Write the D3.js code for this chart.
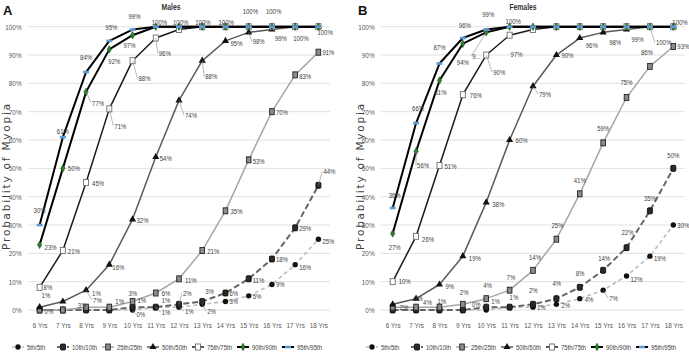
<!DOCTYPE html>
<html><head><meta charset="utf-8">
<script src="https://cdn.jsdelivr.net/npm/d3@7"></script>
<style>body{margin:0;background:#fff}svg{display:block}</style>
</head><body><svg id="c" width="689" height="352"></svg>
<script>
// ---------- DATA ----------
const years = ["6 Yrs","7 Yrs","8 Yrs","9 Yrs","10 Yrs","11 Yrs","12 Yrs","13 Yrs","14 Yrs","15 Yrs","16 Yrs","17 Yrs","18 Yrs"];
const seriesNames = ["5th/5th","10th/10th","25th/25th","50th/50th","75th/75th","90th/90th","95th/95th"];
const yTicks = [0,10,20,30,40,50,60,70,80,90,100];

// Males
const males5  = [0,0,0,0,0,1,1,2,3,5,9,16,25];
const males10 = [0,0,0,0,1,1,2,3,6,11,18,29,44];
const males25 = [0,0,1,1,3,6,11,21,35,53,70,83,91];
const males50 = [1,3,7,16,32,54,74,88,95,98,99,100,100];
const males75 = [8,21,45,71,88,96,99,100,100,100,100,100,100];
const males90 = [23,50,77,92,97,100,100,100,100,100,100,100,100];
const males95 = [30,61,84,95,99,100,100,100,100,100,100,100,100];

// Females
const females5  = [0,0,0,0,0,1,1,2,4,7,12,19,30];
const females10 = [0,0,0,0,1,1,2,4,8,14,22,35,50];
const females25 = [1,1,1,2,4,7,14,25,41,59,75,86,93];
const females50 = [2,4,9,19,38,60,79,90,96,98,99,100,100];
const females75 = [10,26,51,76,90,97,99,100,100,100,100,100,100];
const females90 = [27,56,81,94,98,100,100,100,100,100,100,100,100];
const females95 = [36,66,87,96,99,100,100,100,100,100,100,100,100];

// ---------- LABEL PLACEMENT (series, year index, dx, dy, leader, text override) ----------
const malesLabels = [
 [6,0,-6,-15],[6,1,-6,-6],[6,2,-6,-15],[6,3,-4,-14],[6,4,-4,-13],[6,5,-4,-4],[6,6,-6,-4],[6,7,-7,-4],[6,8,-7,-4],[6,9,-6,-15],[6,10,-6,-15],
 [5,0,5,2],[5,1,5,0],[5,2,6,11,1],[5,3,-1,12],[5,4,-9,10],
 [4,0,4,0],[4,1,5,1],[4,2,6,1],[4,3,5,17,1],[4,4,6,18,1],[4,5,3,15,1],
 [3,0,2,-12],[3,1,15,4],[3,2,7,10,1],[3,3,3,3],[3,4,4,1],[3,5,4,1],[3,6,6,15,1],[3,7,3,16,1],[3,8,5,2],[3,9,4,9,1],[3,10,3,9],[3,11,-2,12],[3,12,-1,6],
 [2,2,6,-14],[2,3,6,-6],[2,4,-4,-8],[2,5,6,0],[2,6,6,1],[2,7,5,1],[2,8,5,0],[2,9,4,1],[2,10,4,1],[2,11,4,1],[2,12,4,0],
 [1,4,5,-7],[1,5,6,-7],[1,6,4,-11,1],[1,7,3,-10],[1,8,4,0],[1,9,4,1],[1,10,4,0],[1,11,4,0],[1,12,5,-14,1],
 [0,0,5,1],[0,4,4,4,1],[0,5,6,5,1],[0,6,6,4,1],[0,7,5,7,1],[0,8,4,0],[0,9,4,0],[0,10,4,0],[0,11,4,3],[0,12,4,2]
];
const femalesLabels = [
 [6,0,-4,-13],[6,1,-4,-15],[6,2,-6,-16],[6,3,-4,-13],[6,4,-4,-15],[6,5,-4,-5],[6,12,-1,-4],
 [5,0,-4,14],[5,1,1,14,1],[5,2,-5,12],[5,3,-6,19],[5,4,-14,24,1,"9..."],
 [4,0,6,0],[4,1,6,3],[4,2,5,1],[4,3,7,1],[4,4,7,17,1],[4,5,1,19],
 [3,0,7,3],[3,1,7,4],[3,2,6,2],[3,3,6,2],[3,4,6,2],[3,5,6,0],[3,6,6,8,1],[3,7,5,0],[3,8,6,7],[3,9,6,10],[3,10,5,10],[3,11,6,16,1],
 [2,2,-2,-6],[2,3,-3,-12],[2,4,-3,-13],[2,5,-3,-13],[2,6,-4,-13],[2,7,-5,-14],[2,8,-6,-14],[2,9,-6,-15],[2,10,-6,-15],[2,11,-9,-14],[2,12,4,0],
 [1,1,-2,-12],[1,3,9,-6],[1,4,5,-6],[1,5,0,-10],[1,6,-4,-14],[1,7,-4,-15],[1,8,-4,-14],[1,9,-5,-12],[1,10,-5,-15],[1,11,-6,-13],[1,12,-6,-13],
 [0,6,4,0],[0,7,5,1],[0,8,5,1],[0,9,6,8,1],[0,10,4,3],[0,11,4,2],[0,12,4,0]
];

// ---------- STYLES ----------
const narrow = "'Liberation Sans Narrow','Liberation Sans',Arial,sans-serif";
const squeeze = 0.8;
const lineStyles = [
 {stroke:"#bdbdbd", w:1.6, dash:"4,3"},
 {stroke:"#666666", w:2,   dash:"6,3"},
 {stroke:"#a6a6a6", w:1.5, dash:null},
 {stroke:"#5a5a5a", w:1.5, dash:null},
 {stroke:"#1a1a1a", w:1.5, dash:null},
 {stroke:"#000000", w:2,   dash:null},
 {stroke:"#000000", w:2,   dash:null}
];

const svg = d3.select("#c");

function drawMarker(g, s, x, y) {
  if (s === 0) {
    g.append("circle").attr("cx", x).attr("cy", y).attr("r", 2.7).attr("fill", "#111");
  } else if (s === 1) {
    g.append("rect").attr("x", x-2.5).attr("y", y-3).attr("width", 5).attr("height", 6).attr("rx", 1)
      .attr("fill", "#2b2b2b").attr("stroke", "#000").attr("stroke-width", 0.8);
  } else if (s === 2) {
    g.append("rect").attr("x", x-2.3).attr("y", y-3).attr("width", 4.6).attr("height", 6)
      .attr("fill", "#8c8c8c").attr("stroke", "#222").attr("stroke-width", 0.9);
  } else if (s === 3) {
    g.append("path").attr("d", d3.symbol(d3.symbolTriangle, 22)()).attr("transform", `translate(${x},${y})`).attr("fill", "#111");
  } else if (s === 4) {
    g.append("rect").attr("x", x-2.5).attr("y", y-3).attr("width", 5).attr("height", 6)
      .attr("fill", "#fff").attr("stroke", "#6e6e6e").attr("stroke-width", 0.9);
  } else if (s === 5) {
    g.append("path").attr("d", d3.symbol(d3.symbolDiamond, 16)()).attr("transform", `translate(${x},${y})`)
      .attr("fill", "#2e7d2e").attr("stroke", "#0d3d0d").attr("stroke-width", 0.5);
  } else {
    g.append("rect").attr("x", x-3).attr("y", y-1.3).attr("width", 6).attr("height", 2.6).attr("fill", "#5b9bd5");
  }
}

function narrowText(g, x, y, txt, size, fill, weight) {
  return g.append("text").attr("transform", `translate(${x},${y}) scale(${squeeze},1)`)
    .attr("dominant-baseline", "central").attr("font-family", narrow)
    .attr("font-size", size).attr("font-weight", weight || "normal").attr("fill", fill).text(txt);
}

function panel(cfg) {
  const g = svg.append("g");
  const x = d3.scalePoint().domain(years).range([cfg.x0, cfg.x1]).padding(0.5);
  const y = d3.scaleLinear().domain([0, 100]).range([310, 26.7]);

  // gridlines
  g.append("g").selectAll("line").data(yTicks).join("line")
    .attr("x1", cfg.x0).attr("x2", cfg.x1)
    .attr("y1", d => y(d)).attr("y2", d => y(d))
    .attr("stroke", "#d9d9d9").attr("stroke-width", 0.8);

  // y axis labels
  const ya = g.append("g").attr("transform", `translate(${cfg.x0 - 4},0)`)
    .call(d3.axisLeft(y).tickValues(yTicks).tickFormat(d => d + "%").tickSize(0));
  ya.select(".domain").remove();
  ya.selectAll("text").attr("font-family", narrow).attr("font-size", 8).attr("fill", "#595959")
    .attr("transform", `scale(${squeeze},1)`);

  // x axis labels
  const xa = g.append("g").attr("transform", `translate(0,319)`)
    .call(d3.axisBottom(x).tickSize(0));
  xa.select(".domain").remove();
  xa.selectAll("text").attr("font-family", narrow).attr("font-size", 8).attr("fill", "#595959")
    .attr("transform", `scale(${squeeze},1)`);

  // y title
  g.append("text").attr("transform", `translate(${cfg.ytitleX},176) rotate(-90)`)
    .attr("text-anchor", "middle").attr("dominant-baseline", "central")
    .attr("font-family", "'DejaVu Sans',sans-serif").attr("font-size", 10.5).attr("letter-spacing", 1.8)
    .attr("fill", "#404040").text("Probability of Myopia");

  // panel letter and title
  g.append("text").attr("x", cfg.letterX).attr("y", 15).attr("font-family", "'Liberation Sans',Arial,sans-serif")
    .attr("font-weight", "bold").attr("font-size", 13).attr("fill", "#111").text(cfg.letter);
  narrowText(g, cfg.titleX, 7, cfg.title, 8.5, "#333", "bold").attr("text-anchor", "middle");

  // lines
  const line = d3.line().x((d, i) => x(years[i])).y(d => y(d));
  cfg.series.forEach((vals, s) => {
    const st = lineStyles[s];
    g.append("path").attr("d", line(vals)).attr("fill", "none")
      .attr("stroke", st.stroke).attr("stroke-width", st.w)
      .attr("stroke-dasharray", st.dash).attr("stroke-linejoin", "round");
  });
  // markers
  cfg.series.forEach((vals, s) => {
    const mg = g.append("g");
    vals.forEach((v, i) => drawMarker(mg, s, x(years[i]), y(v)));
  });

  // data labels
  const lg = g.append("g");
  cfg.labels.forEach(([s, i, dx, dy, leader, txt]) => {
    const v = cfg.series[s][i];
    const px = x(years[i]), py = y(v);
    if (leader) {
      lg.append("line").attr("x1", px).attr("y1", py).attr("x2", px + dx - 1).attr("y2", py + dy)
        .attr("stroke", "#8c8c8c").attr("stroke-width", 0.6);
    }
    narrowText(lg, px + dx, py + dy, txt || (v + "%"), 7.5, "#404040");
  });

  // legend
  const leg = g.append("g").attr("transform", `translate(${cfg.legendX},347)`);
  seriesNames.forEach((name, s) => {
    const it = leg.append("g").attr("transform", `translate(${s * 45},0)`);
    const st = lineStyles[s];
    it.append("line").attr("x1", 0).attr("x2", 12).attr("y1", 0).attr("y2", 0)
      .attr("stroke", st.stroke).attr("stroke-width", st.w).attr("stroke-dasharray", s < 2 ? "3,2" : null);
    drawMarker(it, s, 6, 0);
    narrowText(it, 15, 0, name, 7.5, "#404040");
  });
}

panel({x0: 28, x1: 330, letter: "A", letterX: 3, title: "Males", titleX: 171, ytitleX: 6, legendX: 12,
  series: [males5, males10, males25, males50, males75, males90, males95], labels: malesLabels});
panel({x0: 381, x1: 685, letter: "B", letterX: 358, title: "Females", titleX: 523, ytitleX: 360, legendX: 366,
  series: [females5, females10, females25, females50, females75, females90, females95], labels: femalesLabels});
</script></body></html>
